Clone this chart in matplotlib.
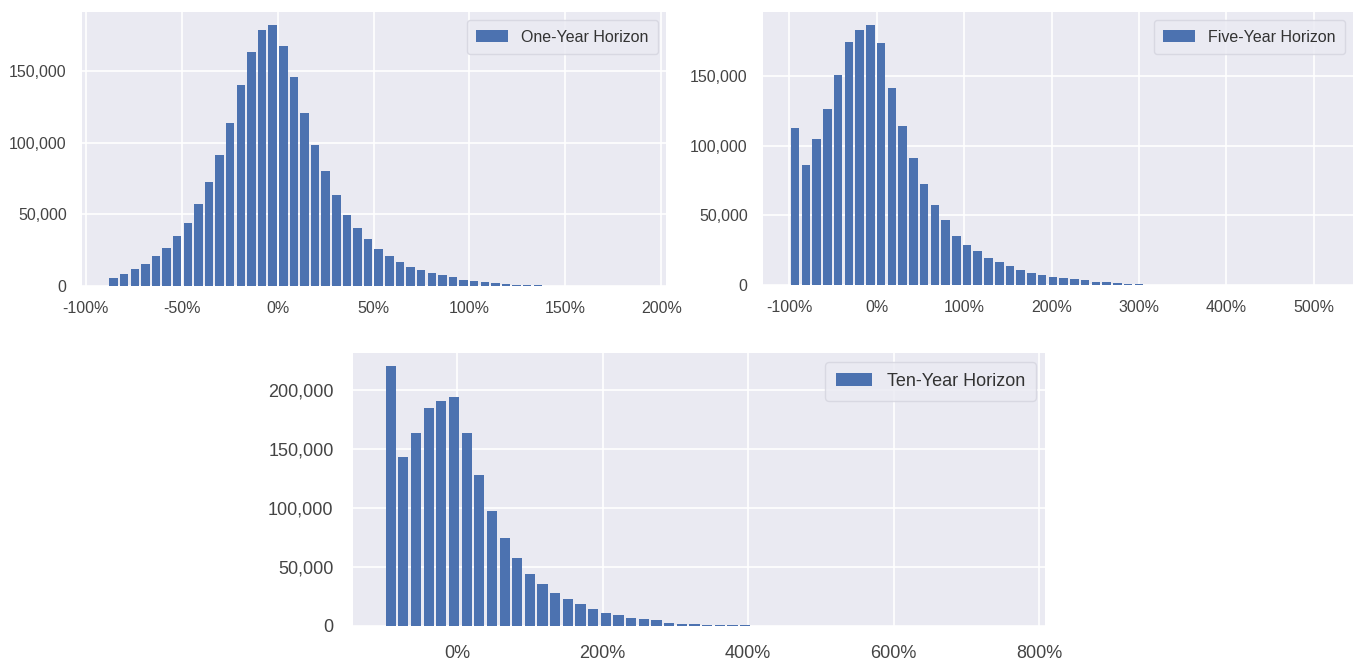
import numpy as np
import matplotlib
matplotlib.use("Agg")
import matplotlib.pyplot as plt
import seaborn as sns
from matplotlib.ticker import FuncFormatter, MultipleLocator

sns.set_theme(style="darkgrid")
plt.rcParams['font.family'] = ['Liberation Sans', 'DejaVu Sans']

# ---- data ----
labels = ["One-Year Horizon", "Five-Year Horizon", "Ten-Year Horizon"]

# bin ranges in percent (lowest edge, highest edge); 50 bins each
one_year_range = (-88.3, 188.2)
five_year_range = (-99.6, 515.0)
ten_year_range = (-100.0, 770.0)

one_year_counts = [5600, 8200, 11900, 15600, 21000, 26600, 34700, 44000, 57500, 72700,
                   91300, 113900, 140000, 163000, 178700, 182000, 167500, 145600, 121000, 98300,
                   80100, 63600, 49600, 40800, 32600, 26100, 20800, 16800, 13300, 10900,
                   9100, 7500, 6300, 4000, 3500, 3000, 2100, 1200, 900, 500,
                   500, 300, 200, 150, 100, 60, 40, 20, 10, 5]

five_year_counts = [113000, 86000, 104800, 126400, 151000, 175000, 183500, 187000, 174000, 141600,
                    114300, 91500, 72600, 57600, 46500, 35600, 29100, 24200, 19400, 16200,
                    13800, 10900, 8500, 7300, 6000, 5300, 4400, 3400, 2400, 1900,
                    1200, 1000, 500, 300, 300, 300, 150, 100, 80, 60,
                    40, 30, 20, 15, 10, 8, 5, 3, 2, 1]

ten_year_counts = [220600, 143400, 164000, 184900, 191100, 194300, 164000, 128300, 97700, 74600,
                   57700, 44300, 35700, 27700, 22900, 18300, 14000, 11400, 9100, 7100,
                   6000, 4900, 2600, 2000, 1800, 1100, 1000, 600, 500, 400,
                   200, 150, 100, 60, 40, 30, 20, 15, 10, 8,
                   6, 5, 4, 3, 2, 2, 1, 1, 1, 1]

x_ticks_one = [-100, -50, 0, 50, 100, 150, 200]
x_ticks_five = [-100, 0, 100, 200, 300, 400, 500]
x_ticks_ten = [0, 200, 400, 600, 800]

W, H = 1359, 660
fig = plt.figure(figsize=(W / 100, H / 100), dpi=100)

bar_color = "#4C72B0"
face = "#EAEAF2"


def axes_px(x0, y0, x1, y1):
    return fig.add_axes([x0 / W, 1 - y1 / H, (x1 - x0) / W, (y1 - y0) / H])


def draw(ax, counts, rng, label, ticks, xlim, fs, legfs, pad):
    edges = np.linspace(rng[0], rng[1], len(counts) + 1)
    centers = (edges[:-1] + edges[1:]) / 2
    ax.hist(centers, bins=edges, weights=counts, rwidth=0.8, color=bar_color,
            edgecolor="none", linewidth=0, label=label)
    ax.set_facecolor(face)
    ax.set_xlim(*xlim)
    ax.set_xticks(ticks)
    ax.yaxis.set_major_locator(MultipleLocator(50000))
    ax.xaxis.set_major_formatter(FuncFormatter(lambda v, p: f"{v:.0f}%"))
    ax.yaxis.set_major_formatter(FuncFormatter(lambda v, p: f"{v:,.0f}"))
    ax.tick_params(axis="both", labelsize=fs, colors="#444444", length=0, pad=pad)
    ax.grid(True, color="white", linewidth=1.2)
    for s in ax.spines.values():
        s.set_visible(False)
    leg = ax.legend(loc="upper right", fontsize=legfs, frameon=True, fancybox=True,
                    handlelength=2.0, borderpad=0.6, borderaxespad=0.5)
    leg.get_frame().set_facecolor(face)
    leg.get_frame().set_edgecolor("#D4D4DE")
    for t in leg.get_texts():
        t.set_color("#333333")


ax1 = axes_px(82, 12, 666, 286)
draw(ax1, one_year_counts, one_year_range, labels[0], x_ticks_one, (-102.0, 202.5), 11.5, 11.5, 11)

ax2 = axes_px(763, 12, 1353, 285)
draw(ax2, five_year_counts, five_year_range, labels[1], x_ticks_five, (-130.3, 545.0), 11.5, 11.5, 11)

ax3 = axes_px(353, 353, 1045, 626)
draw(ax3, ten_year_counts, ten_year_range, labels[2], x_ticks_ten, (-143.0, 808.0), 13, 13, 14)

fig.savefig("out.png", dpi=100, facecolor="white")
